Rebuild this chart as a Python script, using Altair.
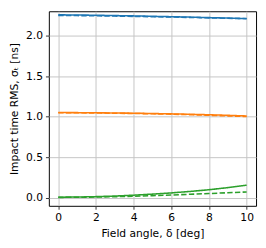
import altair as alt
import pandas as pd

angles = [0, 1, 2, 3, 4, 5, 6, 7, 8, 9, 10]
blue_solid = [2.255, 2.253, 2.250, 2.246, 2.242, 2.237, 2.232, 2.227, 2.221, 2.215, 2.209]
blue_dashed = [2.248, 2.246, 2.243, 2.240, 2.236, 2.232, 2.228, 2.223, 2.218, 2.213, 2.208]
orange_solid = [1.052, 1.051, 1.049, 1.047, 1.044, 1.040, 1.036, 1.031, 1.025, 1.018, 1.010]
orange_dashed = [1.050, 1.049, 1.047, 1.044, 1.041, 1.037, 1.032, 1.026, 1.019, 1.011, 1.003]
green_solid = [0.010, 0.012, 0.017, 0.024, 0.035, 0.048, 0.063, 0.081, 0.102, 0.128, 0.158]
green_dashed = [0.008, 0.009, 0.012, 0.016, 0.022, 0.029, 0.037, 0.046, 0.055, 0.065, 0.075]

series = [
    ("blue", "solid", blue_solid),
    ("blue", "dashed", blue_dashed),
    ("orange", "solid", orange_solid),
    ("orange", "dashed", orange_dashed),
    ("green", "solid", green_solid),
    ("green", "dashed", green_dashed),
]
rows = []
for c, d, vals in series:
    for a, v in zip(angles, vals):
        rows.append({"angle": a, "rms": v, "color": c, "style": d, "key": c + "-" + d})
df = pd.DataFrame(rows)

chart = alt.Chart(df).mark_line(strokeWidth=1.6).encode(
    x=alt.X("angle:Q", scale=alt.Scale(domain=[-0.5, 10.5], nice=False, zero=False),
            axis=alt.Axis(values=[0, 2, 4, 6, 8, 10], title="Field angle, δ [deg]")),
    y=alt.Y("rms:Q", scale=alt.Scale(domain=[-0.096, 2.299], nice=False, zero=False),
            axis=alt.Axis(values=[0, 0.5, 1.0, 1.5, 2.0], format=".1f",
                          title="Impact time RMS, σₜ [ns]")),
    color=alt.Color("color:N", scale=alt.Scale(domain=["blue", "orange", "green"],
                                               range=["#1f77b4", "#ff7f0e", "#2ca02c"]),
                    legend=None),
    strokeDash=alt.StrokeDash("style:N", scale=alt.Scale(domain=["solid", "dashed"],
                                                         range=[[1, 0], [5.5, 2.4]]),
                              legend=None),
    detail="key:N",
).properties(
    width=213, height=200,
    autosize=alt.AutoSizeParams(type="none"),
    padding={"left": 42, "top": 0, "right": 2, "bottom": 40},
).configure_view(
    stroke="black", strokeWidth=1
).configure_axis(
    domain=False,
    grid=True, gridColor="#c4c4c4", gridWidth=1,
    tickColor="black", tickSize=3.5, tickWidth=0.8,
    labelFont="DejaVu Sans", labelFontSize=11, labelColor="black", labelPadding=3,
    titleFont="DejaVu Sans", titleFontSize=11, titleFontWeight="normal", titleColor="black",
).configure_axisX(titlePadding=5).configure_axisY(titlePadding=6)

chart.save("out.html", embed_options={"renderer": "svg", "actions": False})
